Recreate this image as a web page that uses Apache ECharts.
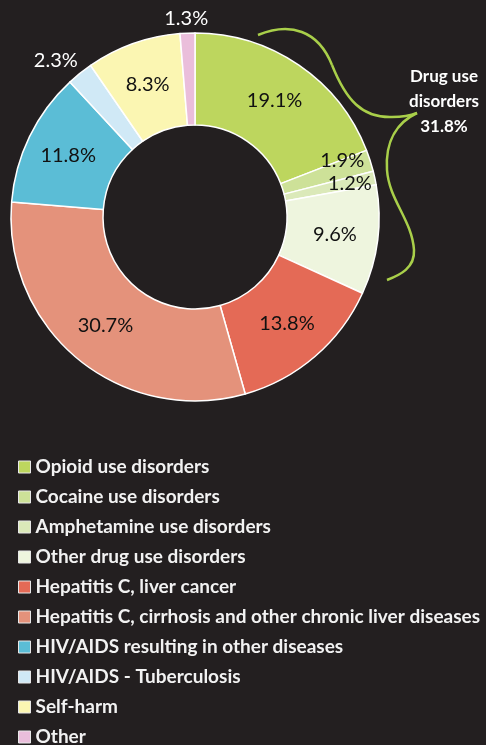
<!DOCTYPE html>
<html lang="en">

<head>
    <meta charset="UTF-8">
    <title>Drug use deaths breakdown</title>
    <style>
        html,
        body {
            margin: 0;
            padding: 0;
            background: #231f20;
        }

        .mychart {
            width: 486px;
            height: 745px;
        }
    </style>
</head>

<body>
    <div class="mychart"></div>
</body>
<script src="https://cdn.jsdelivr.net/npm/echarts@6/dist/echarts.min.js"></script>
<script>
    // categories and shares (%)
    const categories = [
        'Opioid use disorders',
        'Cocaine use disorders',
        'Amphetamine use disorders',
        'Other drug use disorders',
        'Hepatitis C, liver cancer',
        'Hepatitis C, cirrhosis and other chronic liver diseases',
        'HIV/AIDS resulting in other diseases',
        'HIV/AIDS - Tuberculosis',
        'Self-harm',
        'Other'
    ]
    const shares = [19.1, 1.9, 1.2, 9.6, 13.8, 30.7, 11.8, 2.3, 8.3, 1.3]
    const groupLabel = 'Drug use\ndisorders\n31.8%'

    const colors = ['#bdd65e', '#cde198', '#dbe9b9', '#eef5de', '#e46a56',
        '#e4927b', '#5bbdd6', '#d0e9f6', '#fbf6b2', '#eabedb'
    ]
    const font = 'Lato, "Open Sans", sans-serif'

    // labels that sit outside the ring (white) and small nudges
    const whiteLabels = [7, 9]
    const nudges = {
        1: [13, -13],
        2: [17, -4],
        7: [-51, -46],
        9: [-3, -58]
    }

    // curly brace segments: [x1, y1, cpx1, cpy1, cpx2, cpy2, x2, y2]
    const brace = [
        [258, 35, 290, 22, 318, 30, 332, 65],
        [332, 65, 346, 100, 362, 118, 392, 117],
        [392, 117, 405, 117, 412, 115, 417, 113],
        [417, 113, 398, 122, 385, 140, 387, 170],
        [387, 170, 389, 200, 412, 220, 414, 250],
        [414, 250, 415, 268, 400, 275, 387, 280]
    ]

    const mychartDom = document.querySelector('.mychart')
    const myChart = echarts.init(mychartDom)

    const config = {
        backgroundColor: '#231f20',
        color: colors,
        legend: {
            orient: 'vertical',
            left: 13,
            top: 452,
            height: 300,
            itemWidth: 12,
            itemHeight: 12,
            itemGap: 10,
            icon: 'rect',
            itemStyle: {
                borderColor: '#e8e8e8',
                borderWidth: 1
            },
            textStyle: {
                color: '#f2f2f2',
                fontFamily: font,
                fontWeight: 'bold',
                fontSize: 19,
                lineHeight: 20
            },
            data: categories
        },
        series: [{
            type: 'pie',
            center: [195, 217],
            radius: [92, 184],
            startAngle: 90,
            clockwise: true,
            avoidLabelOverlap: false,
            itemStyle: {
                borderColor: '#ffffff',
                borderWidth: 1.5
            },
            label: {
                show: true,
                position: 'inside',
                formatter: p => p.value.toFixed(1) + '%',
                color: '#111111',
                fontFamily: font,
                fontSize: 20
            },
            labelLine: {
                show: false
            },
            emphasis: {
                disabled: true
            },
            labelLayout: function(p) {
                const n = nudges[p.dataIndex]
                if (n) return {
                    dx: n[0],
                    dy: n[1]
                }
            },
            data: categories.map((name, i) => ({
                name: name,
                value: shares[i],
                label: whiteLabels.includes(i) ? {
                    color: '#ffffff'
                } : undefined
            }))
        }],
        graphic: brace.map(s => ({
            type: 'bezierCurve',
            shape: {
                x1: s[0],
                y1: s[1],
                cpx1: s[2],
                cpy1: s[3],
                cpx2: s[4],
                cpy2: s[5],
                x2: s[6],
                y2: s[7]
            },
            style: {
                fill: 'none',
                stroke: '#a9cf4a',
                lineWidth: 2.5
            }
        })).concat([{
            type: 'text',
            x: 444,
            y: 64,
            style: {
                text: groupLabel,
                fill: '#ffffff',
                font: 'bold 17px ' + font,
                align: 'center',
                lineHeight: 25
            }
        }])
    }

    myChart.setOption(config)
</script>

</html>
